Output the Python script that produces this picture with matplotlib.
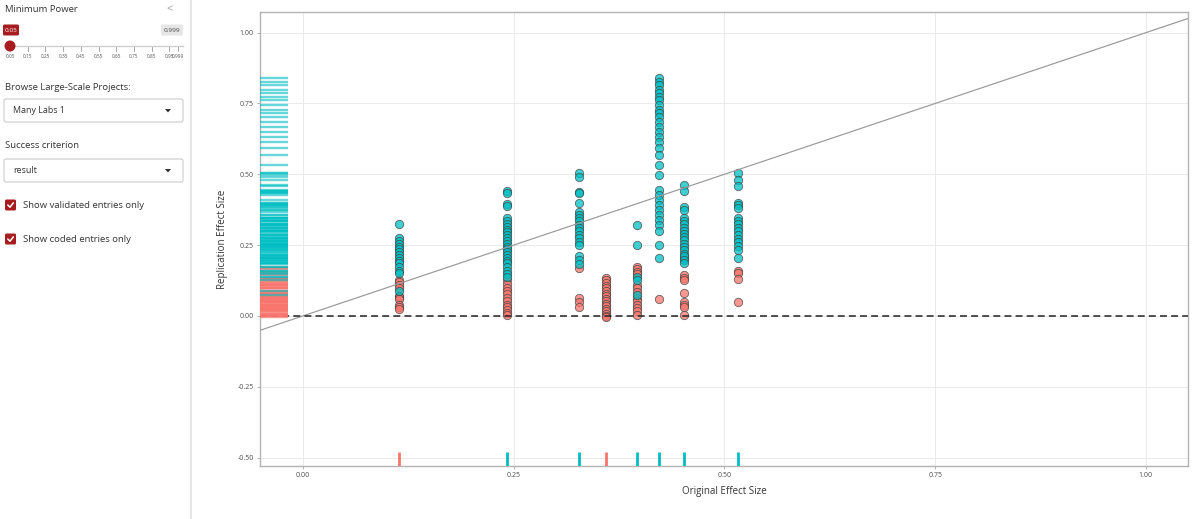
import numpy as np
import matplotlib
matplotlib.use('Agg')
import matplotlib.pyplot as plt
from matplotlib.patches import FancyBboxPatch, Circle, Polygon
import matplotlib.transforms as mtransforms

plt.rcParams['font.family'] = ['Open Sans', 'DejaVu Sans']
plt.rcParams['lines.scale_dashes'] = False

# --- data (Many Labs 1) ---
orig_es = [0.114, 0.242, 0.327, 0.359, 0.396, 0.422, 0.452, 0.516]
orig_success = [False, True, True, False, True, True, True, True]

rep_success = [
    [0.324, 0.275, 0.265, 0.255, 0.245, 0.235, 0.225, 0.215, 0.205, 0.195,
     0.185, 0.172, 0.160, 0.150, 0.088],
    [0.442, 0.433, 0.395, 0.388, 0.345, 0.335, 0.325, 0.315, 0.305, 0.295,
     0.285, 0.275, 0.265, 0.255, 0.245, 0.235, 0.225, 0.215, 0.205, 0.195,
     0.185, 0.172, 0.160, 0.148, 0.138],
    [0.504, 0.490, 0.439, 0.433, 0.400, 0.368, 0.356, 0.345, 0.334, 0.322,
     0.310, 0.298, 0.287, 0.275, 0.262, 0.250, 0.210, 0.196, 0.183],
    [],
    [0.321, 0.250, 0.139, 0.127, 0.074],
    [0.839, 0.827, 0.815, 0.798, 0.786, 0.774, 0.762, 0.745, 0.727, 0.715,
     0.704, 0.686, 0.668, 0.651, 0.633, 0.615, 0.592, 0.568, 0.533, 0.498,
     0.445, 0.427, 0.409, 0.392, 0.374, 0.357, 0.339, 0.321, 0.298, 0.251,
     0.206],
    [0.462, 0.440, 0.386, 0.374, 0.346, 0.335, 0.323, 0.312, 0.300, 0.290,
     0.278, 0.267, 0.255, 0.243, 0.232, 0.220, 0.210, 0.198, 0.185],
    [0.506, 0.480, 0.459, 0.399, 0.390, 0.381, 0.346, 0.335, 0.323, 0.310,
     0.298, 0.285, 0.272, 0.260, 0.247, 0.233, 0.205],
]
rep_fail = [
    [0.128, 0.118, 0.108, 0.098, 0.072, 0.065, 0.058, 0.040, 0.032, 0.025],
    [0.125, 0.112, 0.100, 0.088, 0.076, 0.064, 0.052, 0.040, 0.030, 0.020,
     0.010, 0.002],
    [0.170, 0.064, 0.050, 0.033],
    [0.134, 0.125, 0.115, 0.106, 0.097, 0.088, 0.079, 0.070, 0.061, 0.052,
     0.043, 0.034, 0.025, 0.016, 0.008, 0.000, -0.003],
    [0.174, 0.165, 0.155, 0.148, 0.110, 0.098, 0.086, 0.064, 0.052, 0.040,
     0.028, 0.016, 0.004],
    [0.059],
    [0.205, 0.145, 0.135, 0.125, 0.080, 0.050, 0.040, 0.032, 0.004],
    [0.159, 0.152, 0.131, 0.050],
]

slider_ticks = ['0.05', '0.15', '0.25', '0.35', '0.45', '0.55', '0.65',
                '0.75', '0.85', '0.95', '0.999']
projects_choice = 'Many Labs 1'
criterion_choice = 'result'
checkbox_labels = ['Show validated entries only', 'Show coded entries only']

TEAL = '#00BFC4'
SALMON = '#F8766D'
DARKRED = '#a61c1f'

fig = plt.figure(figsize=(12, 5.19), dpi=100)

# ---------------- sidebar ----------------
side = fig.add_axes([0, 0, 192 / 1200, 1])
side.set_xlim(0, 192)
side.set_ylim(519, 0)
side.axis('off')
side.axvline(191, color='#e6e6e6', lw=1.5)

txt = dict(fontsize=6.8, color='#333333', va='center')
side.text(5, 10, 'Minimum Power', **txt)
side.text(170, 10, '<', fontsize=8, color='#9a9a9a', va='center', ha='center')

# slider
side.add_patch(FancyBboxPatch((3, 24.5), 16, 11, boxstyle='round,pad=0,rounding_size=1.5',
                              fc=DARKRED, ec='none'))
side.text(11, 30, '0.05', fontsize=4.6, color='white', ha='center', va='center')
side.add_patch(FancyBboxPatch((161, 24.5), 22, 11, boxstyle='round,pad=0,rounding_size=1.5',
                              fc='#e6e6e6', ec='none'))
side.text(172, 30, '0.999', fontsize=4.6, color='#444444', ha='center', va='center')
side.plot([10, 183], [46, 46], color='#cfcfcf', lw=1.0)
vals = [float(v) for v in slider_ticks]
for v, lab in zip(vals, slider_ticks):
    px = 10 + (v - 0.05) / (0.999 - 0.05) * 168
    side.plot([px, px], [47, 51], color='#999999', lw=0.6)
    side.text(px, 57, lab, fontsize=3.4, color='#555555', ha='center', va='center')
side.add_patch(Circle((10, 46), 5.5, fc=DARKRED, ec='none', zorder=5))

# dropdowns
side.text(5, 87, 'Browse Large-Scale Projects:', **txt)
for y0, label in [(99, projects_choice), (159, criterion_choice)]:
    side.add_patch(FancyBboxPatch((4, y0), 179, 23, boxstyle='round,pad=0,rounding_size=2',
                                  fc='white', ec='#cccccc', lw=0.8))
    side.text(13, y0 + 11.5, label, fontsize=6.4, color='#333333', va='center')
    side.add_patch(Polygon([[165, y0 + 10], [171, y0 + 10], [168, y0 + 13.5]],
                           closed=True, fc='#333333', ec='none'))
side.text(5, 146, 'Success criterion', **txt)

# checkboxes
for y0, label in zip([205, 239], checkbox_labels):
    side.add_patch(FancyBboxPatch((5, y0 - 5.5), 11, 11, boxstyle='round,pad=0,rounding_size=1.5',
                                  fc=DARKRED, ec='none'))
    side.plot([7.8, 10, 13.4], [y0, y0 + 2.2, y0 - 2.2], color='white', lw=1.1,
              solid_capstyle='round')
    side.text(23, y0, label, fontsize=6.8, color='#333333', va='center')

# ---------------- main plot ----------------
ax = fig.add_axes([260 / 1200, 1 - 466 / 519, 928 / 1200, 454 / 519])
ax.set_xlim(-0.051, 1.050)
ax.set_ylim(-0.53, 1.073)

ax.set_xticks([0, 0.25, 0.5, 0.75, 1.0])
ax.set_xticklabels(['0.00', '0.25', '0.50', '0.75', '1.00'])
ax.set_yticks([-0.5, -0.25, 0, 0.25, 0.5, 0.75, 1.0])
ax.set_yticklabels(['-0.50', '-0.25', '0.00', '0.25', '0.50', '0.75', '1.00'])
ax.grid(True, color='#ebebeb', lw=0.7)
ax.set_axisbelow(True)
ax.tick_params(labelsize=5, labelcolor='#4d4d4d', color='#b3b3b3', length=2.5, width=0.7,
               pad=2)
for sp in ax.spines.values():
    sp.set_color('#b3b3b3')
    sp.set_linewidth(1.0)

ax.set_xlabel('Original Effect Size', fontsize=7, color='#333333', labelpad=5)
ax.set_ylabel('Replication Effect Size', fontsize=7, color='#333333', labelpad=7)

# points
for x, ys in zip(orig_es, rep_fail):
    ax.scatter(np.full(len(ys), x), ys, s=36, fc=SALMON, ec='#3a3a3a', lw=0.6,
               alpha=0.75, zorder=2)
for x, ys in zip(orig_es, rep_success):
    ax.scatter(np.full(len(ys), x), ys, s=36, fc=TEAL, ec='#3a3a3a', lw=0.6,
               alpha=0.75, zorder=2)

# reference lines
ax.axline((0, 0), slope=1, color='#999999', lw=0.85, zorder=3)
ax.axhline(0, color='#222222', lw=1.1, ls=(0, (5, 3)), zorder=3)

# rugs
ytrans = mtransforms.blended_transform_factory(ax.transAxes, ax.transData)
xtrans = mtransforms.blended_transform_factory(ax.transData, ax.transAxes)
all_fail = [v for ys in rep_fail for v in ys]
all_succ = [v for ys in rep_success for v in ys]
for v in all_fail:
    ax.plot([0, 0.03], [v, v], transform=ytrans, color=SALMON, lw=1.7, alpha=0.7,
            solid_capstyle='butt', zorder=4)
for v in all_succ:
    ax.plot([0, 0.03], [v, v], transform=ytrans, color=TEAL, lw=1.7, alpha=0.6,
            solid_capstyle='butt', zorder=4)
for x, ok in zip(orig_es, orig_success):
    ax.plot([x, x], [0, 0.03], transform=xtrans, color=TEAL if ok else SALMON, lw=2.0,
            solid_capstyle='butt', zorder=4)

fig.savefig('out.png', dpi=100, facecolor='white')
